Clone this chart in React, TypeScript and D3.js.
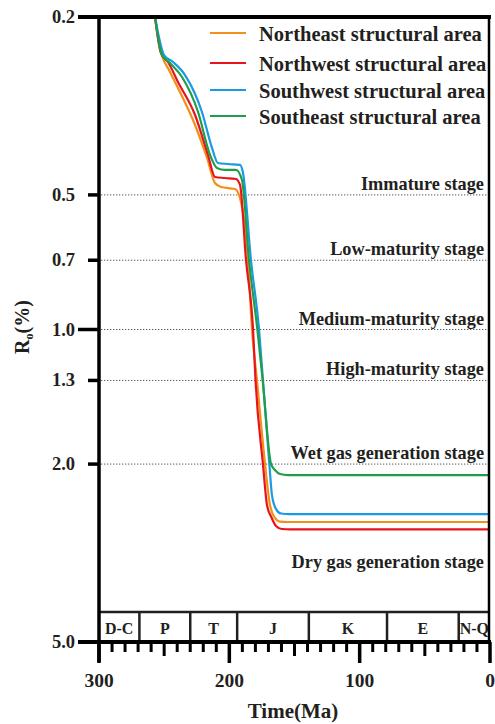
import React from "react";
import * as d3 from "d3";

// ---- data (Ma, Ro%) ----
const seriesNames = [
  "Northeast structural area",
  "Northwest structural area",
  "Southwest structural area",
  "Southeast structural area",
];
const seriesColors = ["#F39019", "#E8141C", "#1A9AE0", "#1E9E48"];

const northeastMa = [257.0, 253.2, 245.5, 239.4, 226.3, 217.1, 211.0, 206.4, 195.7, 192.6, 185.7, 182.6, 178.8, 172.6, 168.8, 165.0, 161.1, 155.0, 0];
const northeastRo = [0.2, 0.2346, 0.2655, 0.2883, 0.3488, 0.4134, 0.4703, 0.4801, 0.4851, 0.5, 0.7, 1.0, 1.3, 2.0, 2.47, 2.64, 2.69, 2.695, 2.695];

const northwestMa = [257.0, 252.5, 247.1, 239.4, 226.3, 216.4, 211.0, 203.3, 195.0, 191.8, 187.2, 181.8, 179.9, 174.2, 171.1, 167.8, 164.2, 159.6, 153.5, 0];
const northwestRo = [0.2, 0.2407, 0.2522, 0.2795, 0.3313, 0.4071, 0.4559, 0.4583, 0.4607, 0.475, 0.7, 1.0, 1.3, 2.0, 2.47, 2.627, 2.75, 2.794, 2.798, 2.798];

const southwestMa = [257.0, 250.1, 243.2, 234.0, 221.0, 213.3, 208.7, 201.0, 191.8, 189.5, 183.4, 177.2, 174.2, 169.3, 167.3, 164.2, 160.4, 153.5, 0];
const southwestRo = [0.2, 0.2432, 0.2522, 0.2697, 0.3262, 0.3926, 0.4242, 0.4264, 0.4285, 0.4466, 0.7, 1.0, 1.3, 2.0, 2.346, 2.52, 2.58, 2.587, 2.587];

const southeastMa = [257.0, 251.7, 245.5, 236.3, 224.0, 214.8, 209.5, 203.3, 194.9, 190.3, 184.9, 178.5, 174.4, 168.0, 165.0, 161.1, 155.0, 0];
const southeastRo = [0.2, 0.2432, 0.2535, 0.2724, 0.3262, 0.4071, 0.4353, 0.4397, 0.4397, 0.4631, 0.7, 1.0, 1.3, 2.0, 2.062, 2.105, 2.116, 2.116];

const yTickValues = [0.2, 0.5, 0.7, 1.0, 1.3, 2.0, 5.0];
const yTickLabels = ["0.2", "0.5", "0.7", "1.0", "1.3", "2.0", "5.0"];
const yLongTicks = [0.2, 1.0, 5.0];
const xTickLabels = [300, 200, 100, 0];

const stageBoundaries = [0.5, 0.7, 1.0, 1.3, 2.0];
const stageNames = [
  "Immature stage",
  "Low-maturity stage",
  "Medium-maturity stage",
  "High-maturity stage",
  "Wet gas generation stage",
];
const lastStageName = "Dry gas generation stage";

const strataNames = ["D-C", "P", "T", "J", "K", "E", "N-Q"];
const strataBounds = [300, 269, 230, 194, 139, 79, 24, 0];

const W = 495;
const H = 724;
const left = 99;
const right = 490;
const top = 17;
const bottom = 642;

const FONT = "Liberation Serif";

function T(props: any) {
  const { children, ...rest } = props;
  return (
    <text fontFamily={FONT} fontWeight="bold" fill="#231F20" style={{ fontFamily: `"${FONT}"` }} {...rest}>
      {children}
    </text>
  );
}

export default function App() {
  const x = d3.scaleLinear().domain([300, 0]).range([left, right]);
  const y = d3.scaleLog().domain([0.2, 5]).range([top, bottom]);

  const allSeries = [
    { ma: northeastMa, ro: northeastRo },
    { ma: northwestMa, ro: northwestRo },
    { ma: southwestMa, ro: southwestRo },
    { ma: southeastMa, ro: southeastRo },
  ].map((s) => s.ma.map((m, i) => [m, s.ro[i]] as [number, number]));

  const line = d3
    .line<[number, number]>()
    .x((d) => x(d[0]))
    .y((d) => y(d[1]))
    .curve(d3.curveMonotoneX);

  const bandTop = bottom - 30;
  const ink = "#231F20";
  const minorTicks = d3.range(0, 301, 10);
  const legendY = [33, 63, 90, 116];

  return (
    <svg width={W} height={H} style={{ position: "absolute", left: 0, top: 0 }}>
      <style>{`text, tspan { font-family: "${FONT}", Times, serif; }`}</style>
      <defs>
        <clipPath id="plotClip">
          <rect x={left} y={top} width={right - left} height={bottom - top} />
        </clipPath>
      </defs>
      <rect x={0} y={0} width={W} height={H} fill="#fff" />

      {/* dotted stage boundaries */}
      {stageBoundaries.map((v) => (
        <line
          key={"g" + v}
          x1={left + 2}
          x2={right - 2}
          y1={y(v)}
          y2={y(v)}
          stroke="#555"
          strokeWidth={1}
          strokeDasharray="1.3,1.7"
        />
      ))}

      {/* stage labels */}
      {stageNames.map((n, i) => (
        <T key={n} x={484} y={y(stageBoundaries[i]) - 5} textAnchor="end" fontSize={18.3}>
          {n}
        </T>
      ))}
      <T x={484} y={y(2.0) + 104} textAnchor="end" fontSize={18.3}>
        {lastStageName}
      </T>

      {/* curves */}
      <g clipPath="url(#plotClip)">
        {allSeries.map((s, i) => (
          <path
            key={seriesNames[i]}
            d={line(s) || ""}
            fill="none"
            stroke={seriesColors[i]}
            strokeWidth={2.2}
          />
        ))}
      </g>

      {/* strata band */}
      <line x1={left} x2={right} y1={bandTop} y2={bandTop} stroke={ink} strokeWidth={2.5} />
      {strataBounds.slice(1, -1).map((b) => (
        <line key={"sb" + b} x1={x(b)} x2={x(b)} y1={bandTop} y2={bottom} stroke={ink} strokeWidth={2.5} />
      ))}
      {strataNames.map((n, i) => (
        <T
          key={n}
          x={(x(strataBounds[i]) + x(strataBounds[i + 1])) / 2}
          y={bottom - 8}
          textAnchor="middle"
          fontSize={16}
        >
          {n}
        </T>
      ))}

      {/* frame: top and right */}
      <line x1={78} x2={right + 1} y1={top} y2={top} stroke="#000" strokeWidth={4} />
      <line x1={right - 1} x2={right - 1} y1={top} y2={bottom} stroke="#000" strokeWidth={2.5} />

      {/* y axis */}
      <line x1={left} x2={left} y1={top - 2} y2={bottom + 20} stroke="#000" strokeWidth={3.5} />
      {yTickValues.map((v, i) => (
        <g key={"yt" + v}>
          <line
            x1={yLongTicks.includes(v) ? 78 : 88}
            x2={left}
            y1={y(v)}
            y2={y(v)}
            stroke="#000"
            strokeWidth={3.5}
          />
          <T x={75} y={y(v) + 6} textAnchor="end" fontSize={18.5}>
            {yTickLabels[i]}
          </T>
        </g>
      ))}

      {/* x axis */}
      <line x1={78} x2={right + 1} y1={bottom} y2={bottom} stroke="#000" strokeWidth={4} />
      {minorTicks.map((t) => {
        const len = t % 100 === 0 ? 21 : t % 50 === 0 ? 14 : 10;
        return (
          <line
            key={"xt" + t}
            x1={x(t)}
            x2={x(t)}
            y1={bottom}
            y2={bottom + len}
            stroke="#000"
            strokeWidth={t % 100 === 0 ? 3.5 : 3}
          />
        );
      })}
      {xTickLabels.map((t) => (
        <T key={"xl" + t} x={x(t)} y={687} textAnchor="middle" fontSize={19.5}>
          {t}
        </T>
      ))}
      <T x={293} y={718} textAnchor="middle" fontSize={21}>
        Time(Ma)
      </T>

      {/* y title */}
      <T transform="translate(29,327) rotate(-90)" textAnchor="middle" fontSize={20}>
        R
        <tspan fontSize={12} dy={4}>o</tspan>
        <tspan dy={-4}>(%)</tspan>
      </T>

      {/* legend */}
      {seriesNames.map((n, i) => (
        <g key={"lg" + n}>
          <line x1={210} x2={246} y1={legendY[i]} y2={legendY[i]} stroke={seriesColors[i]} strokeWidth={2.2} />
          <T x={259} y={legendY[i] + 8} fontSize={20.5}>
            {n}
          </T>
        </g>
      ))}
    </svg>
  );
}
